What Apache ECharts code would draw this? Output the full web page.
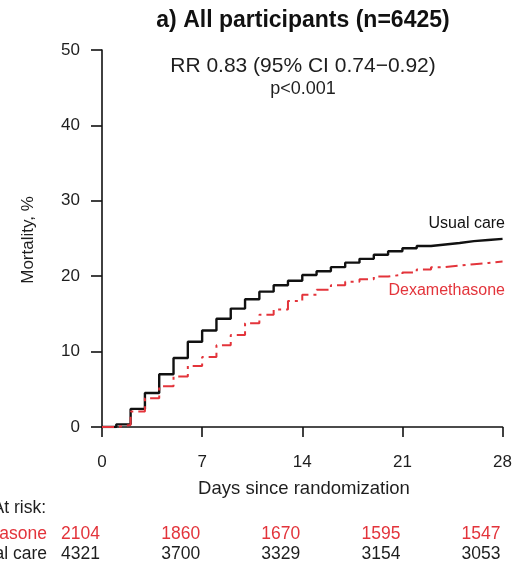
<!DOCTYPE html>
<html><head><meta charset="utf-8">
<script src="https://cdn.jsdelivr.net/npm/echarts@6/dist/echarts.min.js"></script>
<style>html,body{margin:0;padding:0;background:#fff}#c{width:515px;height:561px}</style>
</head><body><div id="c"></div>
<script>
const days = [0,1,2,3,4,5,6,7,8,9,10,11,12,13,14,15,16,17,18,19,20,21,22,23,24,25,26,27,28];
const usualCare = [0,0.35,2.4,4.5,7.0,9.15,11.3,12.8,14.35,15.7,16.95,17.95,18.8,19.4,20.15,20.65,21.2,21.8,22.3,22.85,23.3,23.7,24.0,24.2,24.4,24.65,24.8,24.95,24.95];
const dexamethasone = [0,0.25,2.05,3.8,5.4,6.7,8.1,9.3,10.85,12.2,13.75,14.9,15.6,16.7,17.55,18.2,18.8,19.25,19.6,19.95,20.2,20.5,20.9,21.2,21.4,21.6,21.75,21.95,21.95];
const xTicks = [0,7,14,21,28];
const atRiskDexa = [2104,1860,1670,1595,1547];
const atRiskUsual = [4321,3700,3329,3154,3053];
const RED = '#e3343b';
const INK = '#1e1e1e';
const FONT = "'Liberation Sans', Arial, sans-serif";

const chart = echarts.init(document.getElementById('c'));
const option = {
  animation: false,
  backgroundColor: '#fff',
  textStyle: {fontFamily: FONT},
  grid: {left: 102, right: 10, top: 50, bottom: 134, containLabel: false},
  xAxis: {
    type: 'value', min: 0, max: 28, interval: 7,
    axisLine: {show: true, lineStyle: {color: '#111', width: 1.6}},
    axisTick: {show: true, length: 10, lineStyle: {color: '#111', width: 1.6}},
    axisLabel: {fontSize: 17, color: INK, margin: 27, fontFamily: FONT},
    splitLine: {show: false}
  },
  yAxis: {
    type: 'value', min: 0, max: 50, interval: 10,
    axisLine: {show: true, lineStyle: {color: '#111', width: 1.6}},
    axisTick: {show: true, length: 11, lineStyle: {color: '#111', width: 1.6}},
    axisLabel: {fontSize: 17, color: INK, margin: 22, fontFamily: FONT},
    splitLine: {show: false}
  },
  series: [
    {name: 'Usual care', type: 'line', step: 'end', symbol: 'none',
     data: days.map((d,i)=>[d, usualCare[i]]),
     lineStyle: {color: '#111', width: 2.4}, z: 3},
    {name: 'Dexamethasone', type: 'line', step: 'end', symbol: 'none',
     data: days.map((d,i)=>[d, dexamethasone[i]]),
     lineStyle: {color: RED, width: 2, type: [12,5,3,5]}, z: 4}
  ]
};
chart.setOption(option);

const g = [];
const txt = (x,y,text,opts) => g.push({type:'text', x, y, style: Object.assign({text, fontFamily: FONT, fill: INK, fontSize:17}, opts||{})});
txt(303, 21, 'a) All participants (n=6425)', {fontSize: 23, fontWeight: 'bold', align:'center', verticalAlign:'middle', fill:'#111'});
txt(303, 66, 'RR 0.83 (95% CI 0.74\u22120.92)', {fontSize: 21, align:'center', verticalAlign:'middle'});
txt(303, 89, 'p<0.001', {fontSize: 18, align:'center', verticalAlign:'middle'});
txt(505, 224, 'Usual care', {fontSize: 16, align:'right', verticalAlign:'middle', fill:'#111'});
txt(505, 291, 'Dexamethasone', {fontSize: 16, align:'right', verticalAlign:'middle', fill: RED});
txt(304, 489, 'Days since randomization', {fontSize: 18.5, align:'center', verticalAlign:'middle'});
g.push({type:'text', x: 28, y: 240, rotation: Math.PI/2, style:{text:'Mortality, %', fontFamily: FONT, fontSize: 17, fill: INK, align:'center', verticalAlign:'middle'}});
txt(46, 508, 'At risk:', {fontSize: 17.5, align:'right', verticalAlign:'middle'});
txt(47, 534, 'Dexamethasone', {fontSize: 17.5, align:'right', verticalAlign:'middle', fill: RED});
txt(47, 554, 'Usual care', {fontSize: 17.5, align:'right', verticalAlign:'middle'});
xTicks.forEach((d,i) => {
  const px = chart.convertToPixel({xAxisIndex:0}, d);
  txt(px - 2, 534, String(atRiskDexa[i]), {fontSize: 17.5, align:'right', verticalAlign:'middle', fill: RED});
  txt(px - 2, 554, String(atRiskUsual[i]), {fontSize: 17.5, align:'right', verticalAlign:'middle'});
});
chart.setOption({graphic: g});
</script></body></html>
